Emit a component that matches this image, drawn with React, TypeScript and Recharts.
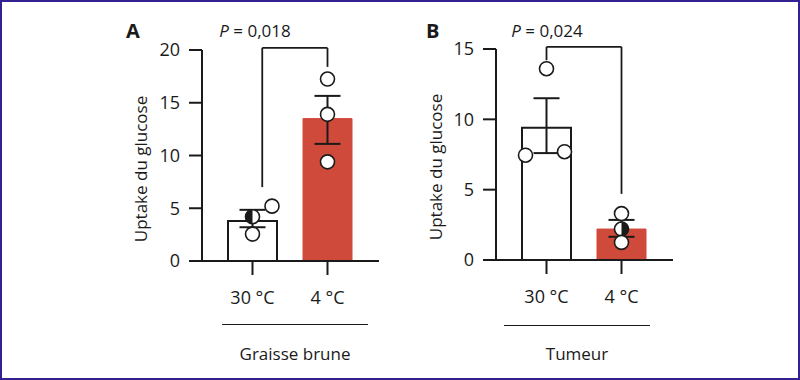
import {
  ComposedChart,
  Bar,
  Cell,
  ErrorBar,
  Scatter,
  XAxis,
  YAxis,
  ReferenceLine,
} from 'recharts'

// data
const categories = ['30 °C', '4 °C']

const fatMean = [3.8, 13.5]
const fatErr = [[0.6, 1.05], [2.4, 2.15]]
const fatPoints = [
  { x: 0.26, y: 5.2 },
  { x: 0, y: 4.2, half: 'L' },
  { x: 0, y: 2.55 },
  { x: 1, y: 17.25 },
  { x: 1, y: 13.9 },
  { x: 1, y: 9.4 },
]
const fatTicks = [0, 5, 10, 15, 20]

const tumMean = [9.4, 2.2]
const tumErr = [[1.8, 2.1], [0.55, 0.65]]
const tumPoints = [
  { x: 0, y: 13.6 },
  { x: -0.28, y: 7.45 },
  { x: 0.24, y: 7.7 },
  { x: 1, y: 3.3 },
  { x: 1, y: 2.2, half: 'R' },
  { x: 1, y: 1.25 },
]
const tumTicks = [0, 5, 10, 15]

const RED = '#d04a3b'
const INK = '#1a1a1a'
const FONT = '"Open Sans", "DejaVu Sans", sans-serif'

// eslint-disable-next-line @typescript-eslint/no-explicit-any
function Dot(props: any) {
  const { cx, cy, payload } = props
  const r = 7
  let half = null
  if (payload.half === 'L') half = `M${cx},${cy - r} A${r},${r} 0 0 0 ${cx},${cy + r} Z`
  if (payload.half === 'R') half = `M${cx},${cy - r} A${r},${r} 0 0 1 ${cx},${cy + r} Z`
  return (
    <g>
      <circle cx={cx} cy={cy} r={r} fill="#fff" stroke={INK} strokeWidth={1.6} />
      {half && <path d={half} fill={INK} />}
    </g>
  )
}

interface PanelProps {
  mean: number[]
  err: number[][]
  points: { x: number; y: number; half?: string }[]
  ticks: number[]
  bracket: { x1: number; x2: number; top: number; y1: number; y2: number }
  margin: { top: number; left: number; right: number; bottom: number }
}

function Panel({ mean, err, points, ticks, bracket, margin }: PanelProps) {
  const data = categories.map((name, i) => ({ name, mean: mean[i], err: err[i] }))
  const max = ticks[ticks.length - 1]
  const ref = { stroke: INK, strokeWidth: 1.8, ifOverflow: 'visible' as const, xAxisId: 'j' }
  return (
    <ComposedChart width={400} height={380} data={data} margin={margin}>
      <XAxis
        dataKey="name"
        padding={{ left: 13, right: 14 }}
        tickSize={14}
        tickMargin={16}
        height={50}
        axisLine={{ stroke: INK, strokeWidth: 2 }}
        tickLine={{ stroke: INK, strokeWidth: 2 }}
        tick={{ fill: INK, fontSize: 18, fontFamily: FONT }}
      />
      <XAxis
        xAxisId="j"
        type="number"
        dataKey="x"
        domain={[-0.5, 1.5]}
        padding={{ left: 13, right: 14 }}
        hide
      />
      <YAxis
        domain={[0, max]}
        ticks={ticks}
        width={60}
        tickSize={13}
        tickMargin={9}
        axisLine={{ stroke: INK, strokeWidth: 2 }}
        tickLine={{ stroke: INK, strokeWidth: 2 }}
        tick={{ fill: INK, fontSize: 18, fontFamily: FONT }}
      />
      <Bar dataKey="mean" barSize={49} isAnimationActive={false}>
        {data.map((d, i) => (
          <Cell
            key={d.name}
            fill={i === 0 ? '#fff' : RED}
            stroke={i === 0 ? INK : RED}
            strokeWidth={i === 0 ? 2 : 1}
          />
        ))}
        <ErrorBar dataKey="err" width={13} stroke={INK} strokeWidth={2} direction="y" isAnimationActive={false} />
      </Bar>
      <ReferenceLine {...ref} segment={[{ x: bracket.x1, y: bracket.y1 }, { x: bracket.x1, y: bracket.top }]} />
      <ReferenceLine {...ref} segment={[{ x: bracket.x1, y: bracket.top }, { x: bracket.x2, y: bracket.top }]} />
      <ReferenceLine {...ref} segment={[{ x: bracket.x2, y: bracket.top }, { x: bracket.x2, y: bracket.y2 }]} />
      <Scatter xAxisId="j" dataKey="y" data={points} shape={<Dot />} isAnimationActive={false} />
    </ComposedChart>
  )
}

const abs = (left: number, top: number): React.CSSProperties => ({
  position: 'absolute',
  left,
  top,
  fontFamily: FONT,
  color: INK,
  fontSize: 17,
  lineHeight: 1,
  whiteSpace: 'nowrap',
})

export default function App() {
  return (
    <div style={{ position: 'absolute', left: 0, top: 0, width: 800, height: 380, background: '#fff', overflow: 'hidden' }}>
      <div style={{ position: 'absolute', left: 0, top: 0 }}>
        <Panel
          mean={fatMean}
          err={fatErr}
          points={fatPoints}
          ticks={fatTicks}
          bracket={{ x1: 0.13, x2: 1, top: 20.2, y1: 7, y2: 18.4 }}
          margin={{ top: 50, left: 142, right: 21, bottom: 69 }}
        />
      </div>
      <div style={{ position: 'absolute', left: 400, top: 0 }}>
        <Panel
          mean={tumMean}
          err={tumErr}
          points={tumPoints}
          ticks={tumTicks}
          bracket={{ x1: 0, x2: 1, top: 15.15, y1: 14.2, y2: 4.7 }}
          margin={{ top: 49, left: 36, right: 127, bottom: 70 }}
        />
      </div>

      {/* panel letters and p-values */}
      <div style={{ ...abs(126, 21), fontWeight: 700, fontSize: 20 }}>A</div>
      <div style={{ ...abs(426, 21), fontWeight: 700, fontSize: 20 }}>B</div>
      <div style={{ ...abs(255, 22), transform: 'translateX(-50%)' }}><i>P</i> = 0,018</div>
      <div style={{ ...abs(547, 22), transform: 'translateX(-50%)' }}><i>P</i> = 0,024</div>

      {/* y-axis titles */}
      <div style={{ ...abs(140, 169), transform: 'translate(-50%, -50%) rotate(-90deg)' }}>Uptake du glucose</div>
      <div style={{ ...abs(435, 167), transform: 'translate(-50%, -50%) rotate(-90deg)' }}>Uptake du glucose</div>

      {/* group underlines */}
      <div style={{ position: 'absolute', left: 222, top: 324, width: 146, height: 0, borderTop: `1.5px solid ${INK}` }} />
      <div style={{ position: 'absolute', left: 504, top: 325, width: 146, height: 0, borderTop: `1.5px solid ${INK}` }} />
      <div style={{ ...abs(295, 345), transform: 'translateX(-50%)' }}>Graisse brune</div>
      <div style={{ ...abs(577, 345), transform: 'translateX(-50%)' }}>Tumeur</div>

      <div style={{ position: 'absolute', left: 0, top: 0, width: 800, height: 380, boxSizing: 'border-box', border: '2px solid #35208f', pointerEvents: 'none' }} />
    </div>
  )
}
